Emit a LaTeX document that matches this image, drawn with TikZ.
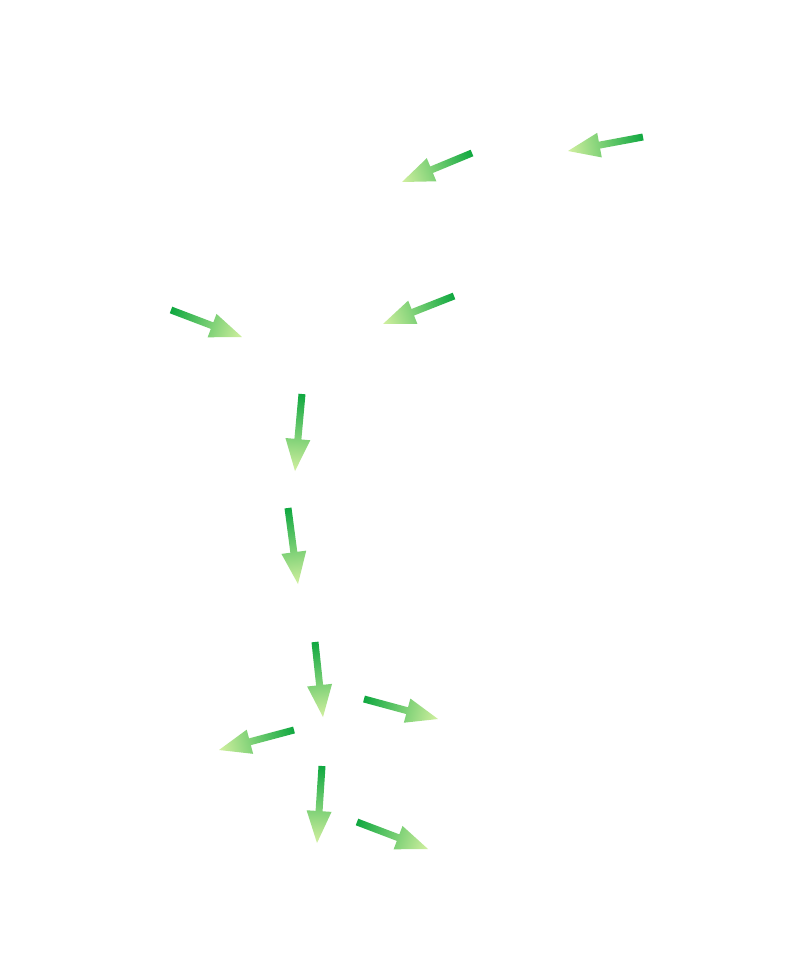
\documentclass[tikz,border=0pt]{standalone}
\usetikzlibrary{calc}

\definecolor{arrdark}{RGB}{16,168,64}
\definecolor{arrlight}{RGB}{210,240,160}

% shaded block arrow from one named coordinate to another
\newcommand\gradarrow[2]{%
  \pgfpointdiff{\pgfpointanchor{#1}{center}}{\pgfpointanchor{#2}{center}}%
  \pgfgetlastxy{\arrdx}{\arrdy}%
  \pgfmathsetmacro\arrang{atan2(\arrdy,\arrdx)}%
  \pgfmathsetmacro\arrlen{veclen(\arrdx,\arrdy)}%
  \shade[flowarrow,transform canvas={shift={(#1)},rotate=\arrang}]
    (0,-3.5) -- (\arrlen-32,-3.5) -- (\arrlen-32,-12.5) -- (\arrlen,0)
    -- (\arrlen-32,12.5) -- (\arrlen-32,3.5) -- (0,3.5) -- cycle;
}

\begin{document}
\begin{tikzpicture}[x=1pt,y=-1pt,
  flowarrow/.style={left color=arrdark,right color=arrlight,draw=none}]
\path[use as bounding box,fill=white] (0,0) rectangle (794,968);

\coordinate (t1) at (643,137);  \coordinate (h1) at (568,151);
\coordinate (t2) at (472,153);  \coordinate (h2) at (402,182);
\coordinate (t3) at (171,310);  \coordinate (h3) at (242,337);
\coordinate (t4) at (454,296);  \coordinate (h4) at (383,324);
\coordinate (t5) at (302,394);  \coordinate (h5) at (295,471);
\coordinate (t6) at (288,508);  \coordinate (h6) at (298,584);
\coordinate (t7) at (315,642);  \coordinate (h7) at (323,717);
\coordinate (t8) at (364,699);  \coordinate (h8) at (438,719);
\coordinate (t9) at (294,730);  \coordinate (h9) at (219,750);
\coordinate (t10) at (322,766); \coordinate (h10) at (317,843);
\coordinate (t11) at (357,822); \coordinate (h11) at (428,849);

\foreach \i in {1,...,11} {
  \gradarrow{t\i}{h\i}
}
\end{tikzpicture}
\end{document}
